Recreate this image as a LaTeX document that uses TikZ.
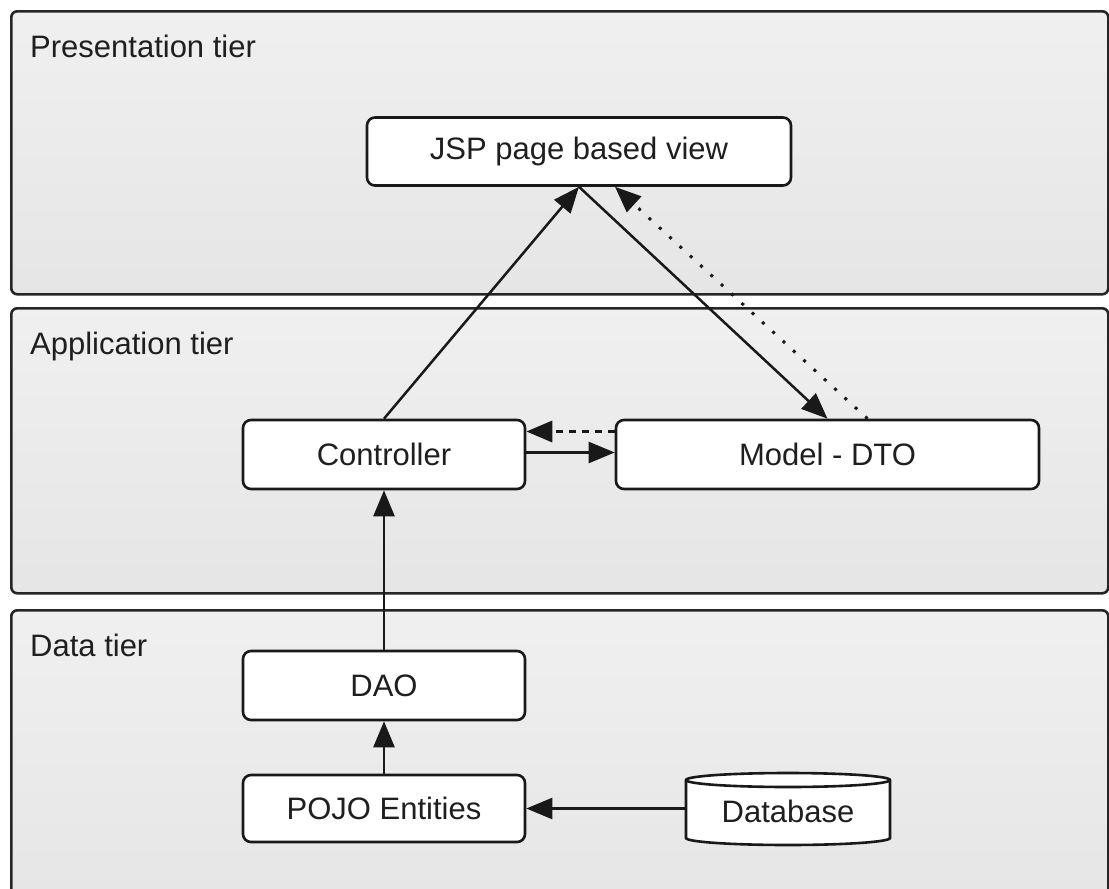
\documentclass[tikz,border=0pt]{standalone}
\usepackage{fontspec}
\setmainfont{Liberation Sans}
\usetikzlibrary{arrows.meta}
\begin{document}
\begin{tikzpicture}[x=1pt,y=-1pt,
  tier/.style={draw=black!85, line width=2.6pt, rounded corners=6pt,
    top color=white!94!black, bottom color=white!90!black,
    anchor=north west, inner sep=0pt},
  tierlabel/.style={anchor=base west, inner sep=0pt,
    font=\fontsize{31}{37}\selectfont, text=black!88},
  box/.style={draw=black!90, line width=2.6pt, rounded corners=8pt, fill=white,
    inner sep=0pt, font=\fontsize{31}{37}\selectfont, text=black!88},
  flow/.style={draw=black!90, line width=2.5pt, -{Triangle[length=26pt,width=21pt]}},
  dotflow/.style={flow, line width=3pt, dash pattern=on 3pt off 11pt},
  dashflow/.style={flow, line width=3.4pt, dash pattern=on 7pt off 6pt}
]
\useasboundingbox (0,0) rectangle (1109,889);

% tiers
\node[tier, minimum width=1097pt, minimum height=283pt] (pres) at (10,10) {};
\node[tier, minimum width=1097pt, minimum height=285pt] (app) at (10,307) {};
\node[tier, minimum width=1097pt, minimum height=300pt] (data) at (10,609) {};
\node[tierlabel] (preslabel) at (30,57) {Presentation tier};
\node[tierlabel] (applabel) at (30,354) {Application tier};
\node[tierlabel] (datalabel) at (30,656) {Data tier};

% components
\node[box, minimum width=424pt, minimum height=68pt] (jsp) at (579,151.5) {JSP page based view};
\node[box, minimum width=282pt, minimum height=69pt] (ctrl) at (384,454.5) {Controller};
\node[box, minimum width=423pt, minimum height=69pt] (model) at (827.5,454.5) {Model - DTO};
\node[box, minimum width=282pt, minimum height=69pt] (dao) at (384,685.5) {DAO};
\node[box, minimum width=282pt, minimum height=67pt] (pojo) at (384,808.5) {POJO Entities};

% database cylinder
\draw[draw=black!90, line width=2.6pt, fill=white]
  (686,780) -- (686,838)
  arc[start angle=180, end angle=360, x radius=102pt, y radius=7pt]
  -- (890,780)
  arc[start angle=0, end angle=180, x radius=102pt, y radius=7pt] -- cycle;
\draw[draw=black!90, line width=2.6pt]
  (686,780) arc[start angle=180, end angle=360, x radius=102pt, y radius=7pt];
\node[inner sep=0pt, minimum width=204pt, minimum height=72pt,
  font=\fontsize{31}{37}\selectfont, text=black!88] (db) at (788,811) {Database};

% connectors
\draw[flow] (ctrl.north) -- (jsp.south);
\draw[flow] (jsp.south) -- (model.north);
\draw[dotflow] ([xshift=40pt]model.north) -- ([xshift=36pt]jsp.south);
\draw[flow] ([yshift=2pt]ctrl.east) -- ([yshift=2pt]model.west);
\draw[dashflow] ([yshift=23pt]model.west) -- ([yshift=23pt]ctrl.east);
\draw[flow] (dao.north) -- (ctrl.south);
\draw[flow] (pojo.north) -- (dao.south);
\draw[flow] (db.west |- pojo.east) -- (pojo.east);
\end{tikzpicture}
\end{document}
